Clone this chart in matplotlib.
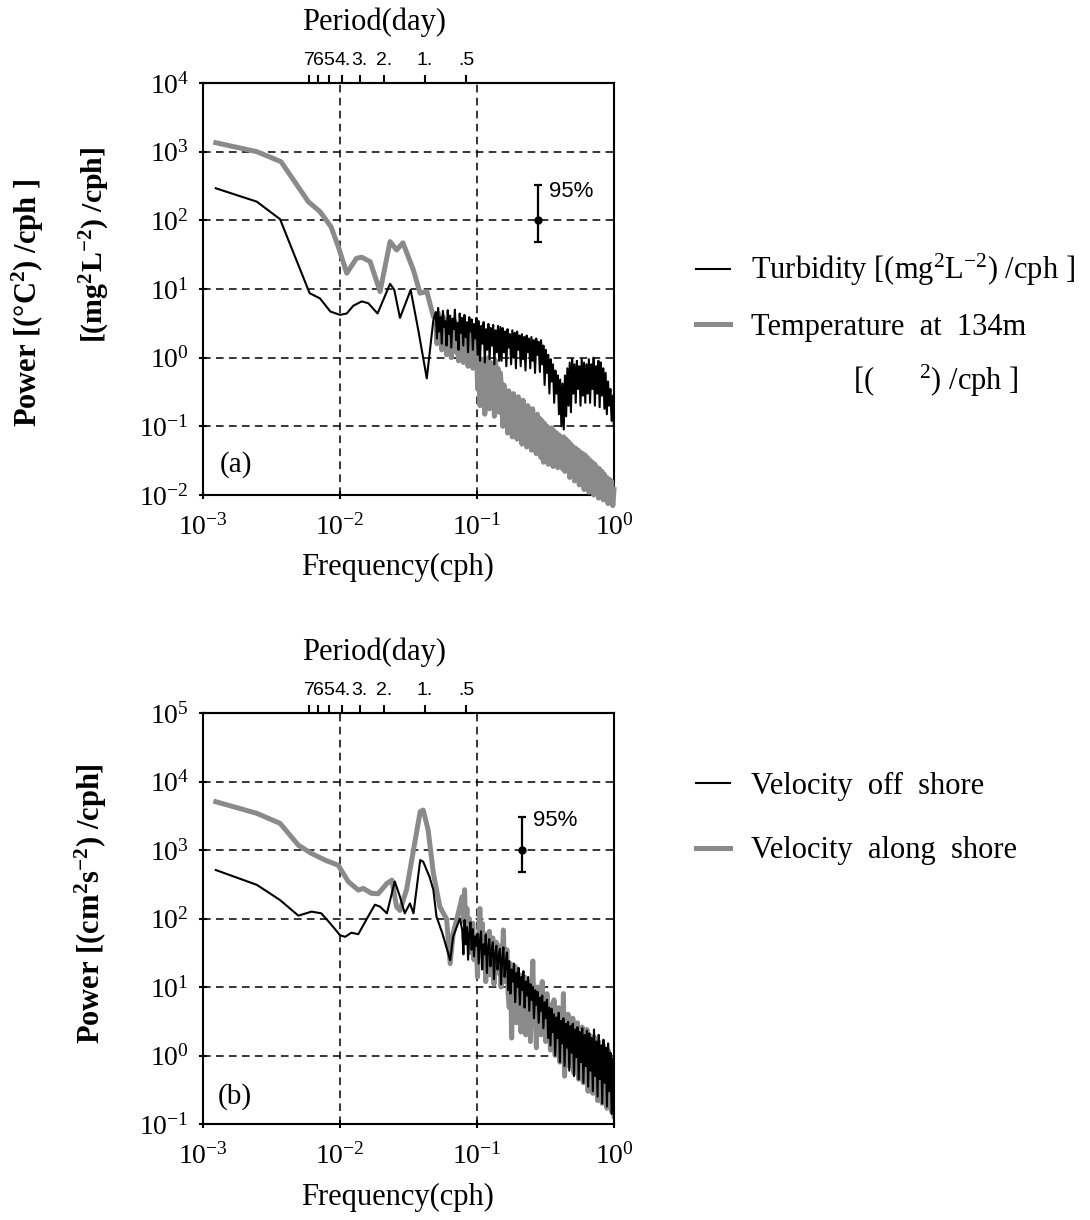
import numpy as np
import matplotlib
matplotlib.use("Agg")
import matplotlib.pyplot as plt
from matplotlib.ticker import FixedLocator, NullLocator, FuncFormatter

plt.rcParams['font.family'] = ['Liberation Serif', 'DejaVu Serif']
plt.rcParams['mathtext.fontset'] = 'custom'
plt.rcParams['mathtext.rm'] = 'Liberation Serif'
plt.rcParams['mathtext.it'] = 'Liberation Serif:italic'
plt.rcParams['mathtext.bf'] = 'Liberation Serif:bold'
plt.rcParams['mathtext.default'] = 'regular'

NARROW = ['Liberation Sans Narrow', 'Liberation Sans', 'DejaVu Sans']

# ---------------- (a) turbidity and temperature spectra ----------------
turb_freq_low = [0.00124, 0.00247, 0.00365, 0.0060, 0.00714, 0.0085, 0.0100, 0.0112,
                 0.0125, 0.0144, 0.0161, 0.0188, 0.0232, 0.0249, 0.0274, 0.0328,
                 0.0373, 0.0430, 0.0480]
turb_pow_low = [293, 187, 104, 8.7, 7.3, 4.7, 4.2, 4.4, 5.7, 6.6, 6.2, 4.4, 11.9, 9.7,
                3.8, 9.7, 2.5, 0.50, 3.5]

temp_freq_low = [0.00124, 0.00247, 0.00371, 0.00587, 0.00714, 0.00859, 0.00973, 0.0112,
                 0.0132, 0.0144, 0.0166, 0.0196, 0.0232, 0.0259, 0.0288, 0.0343,
                 0.0384, 0.0430, 0.0480]
temp_pow_low = [1350, 1000, 715, 187, 134, 81, 41, 17, 28, 29, 25, 9.2, 49, 37, 47, 19,
                8.7, 9.2, 4.0]

# high-frequency parts (0.05-1 cph), on a log-spaced frequency grid
turb_pow_high = (
    [4.6, 1.9, 5.3, 2.4, 3.9, 1.6, 4.8, 2.8, 3.4, 1.5, 4.9, 2.2, 4.1, 1.4, 3.7, 2.6,
     5.0, 1.8, 3.2, 1.3, 4.4, 2.3, 3.8, 1.5, 4.2, 2.0, 3.3, 1.2, 3.9, 2.4, 3.6, 1.3,
     3.1, 1.9, 3.8]
    + [1.1, 3.4, 0.9, 2.9, 1.6, 3.3, 0.85, 2.6, 1.3, 3.1, 0.95, 2.7, 1.5, 3.0, 0.8, 2.5,
       1.2, 2.9, 0.9, 2.8]
    + [0.9, 2.7, 1.2, 2.4, 0.75, 2.6, 1.4, 2.2, 0.8, 2.5, 1.0, 2.3, 0.7, 2.4, 1.3, 2.1,
       0.75, 2.2, 0.95, 2.0, 0.65, 2.1, 1.2, 1.9, 0.7, 2.0, 0.9, 1.8, 0.6, 1.9, 1.1, 1.7,
       0.62, 1.8, 0.8]
    + [1.5, 0.4, 1.3, 0.6, 1.1, 0.3, 0.95, 0.45, 0.8, 0.22, 0.65, 0.3, 0.55, 0.15, 0.48,
       0.1, 0.42]
    + [0.09, 0.55, 0.14, 0.7, 0.2, 0.85, 0.16, 0.95, 0.3, 0.8, 0.22, 0.9, 0.35, 0.75, 0.2,
       0.95, 0.28, 0.85, 0.22, 0.8, 0.3]
    + [0.95, 0.22, 0.8, 0.35, 1.0, 0.2, 0.75, 0.3, 0.9, 0.19, 0.85, 0.28, 0.7]
    + [0.18, 0.6, 0.15, 0.45, 0.2, 0.35, 0.12, 0.28, 0.09]
)
temp_pow_high = (
    [3.8, 1.6, 4.5, 2.2, 3.2, 1.3, 4.0, 2.5, 2.8, 1.1, 3.6, 1.8, 3.0, 1.0, 2.6, 2.0,
     3.4, 1.2, 2.4, 0.9, 3.1, 1.7, 2.5, 0.85, 2.9, 1.4, 2.2, 0.75, 2.7, 1.5, 2.0, 0.7,
     2.3, 1.1, 1.8]
    + [0.35, 1.0, 0.2, 0.9, 0.5, 0.95, 0.15, 0.8, 0.4, 1.0, 0.18, 0.85, 0.3, 0.75, 0.14,
       0.9, 0.35, 0.7, 0.16, 0.6]
    + [0.35, 0.1, 0.4, 0.16, 0.3, 0.08, 0.33, 0.14, 0.26, 0.07, 0.3, 0.12, 0.22, 0.065,
       0.27, 0.1, 0.2, 0.055, 0.24, 0.09, 0.18, 0.05, 0.2, 0.08, 0.16, 0.045, 0.18, 0.07,
       0.14, 0.04, 0.15, 0.06, 0.13, 0.035, 0.12]
    + [0.03, 0.11, 0.05, 0.1, 0.028, 0.09, 0.045, 0.095, 0.026, 0.085, 0.04, 0.08, 0.025,
       0.075, 0.038, 0.07, 0.024]
    + [0.07, 0.022, 0.065, 0.035, 0.06, 0.018, 0.055, 0.03, 0.05, 0.016, 0.048, 0.026,
       0.045, 0.014, 0.042, 0.022, 0.04, 0.012, 0.038, 0.02, 0.035]
    + [0.011, 0.032, 0.016, 0.03, 0.01, 0.028, 0.014, 0.025, 0.009, 0.024, 0.013, 0.022,
       0.0085]
    + [0.02, 0.011, 0.018, 0.0075, 0.017, 0.01, 0.016, 0.007, 0.012]
)

# ---------------- (b) velocity spectra ----------------
off_freq_low = [0.00124, 0.00247, 0.00365, 0.00497, 0.0062, 0.0073, 0.0087, 0.0100,
                0.0109, 0.0121, 0.0136, 0.0160, 0.0180, 0.0196, 0.0220, 0.0251,
                0.0274, 0.0297, 0.0324, 0.0344, 0.0385, 0.0405, 0.0450, 0.0480,
                0.0506, 0.0560, 0.0637, 0.0669, 0.0750]
off_pow_low = [510, 310, 186, 110, 126, 119, 80, 57, 54, 62, 59, 106, 159, 149, 119,
               347, 208, 119, 166, 119, 714, 674, 407, 263, 107, 60, 24.6, 54, 100]

along_freq_low = [0.00124, 0.00247, 0.00365, 0.00497, 0.0062, 0.0078, 0.0097, 0.0115,
                  0.0136, 0.0148, 0.0170, 0.0190, 0.0220, 0.0239, 0.0259, 0.0274,
                  0.0306, 0.0344, 0.0385, 0.0405, 0.0440, 0.0480, 0.0536, 0.0600,
                  0.0637, 0.0669, 0.0730]
along_pow_low = [5070, 3430, 2450, 1175, 890, 710, 600, 345, 260, 275, 233, 230, 325,
                 363, 148, 131, 263, 1000, 3630, 3830, 1950, 460, 148, 98, 22, 60, 120]

# high-frequency parts (0.078-1 cph), on a log-spaced frequency grid
off_pow_high = (
    [68, 30, 95, 42, 75, 25, 60, 88, 35, 70, 28, 55, 40]
    + [60, 22, 48, 65, 18, 42, 30, 58, 16, 38, 50, 20, 34, 45, 13, 30, 40, 18, 28, 36,
       11, 26, 38, 14, 22, 32, 9]
    + [24, 8, 18, 12, 22, 6, 16, 10, 19, 5.5, 14, 9, 17, 5, 12, 7.5, 14, 4.5, 11, 6.5,
       10, 3.5, 9, 5.5, 8.5, 3, 7, 4.5, 7.5, 2.5, 6, 3.5, 6.5, 1.8, 5]
    + [1.4, 4.8, 2.2, 4.0, 1.0, 3.6, 1.8, 4.2, 0.8, 3.2, 1.5, 3.5, 0.7, 2.9, 1.3, 3.1,
       0.6, 2.7, 1.1, 2.9, 0.5, 2.4, 0.95, 2.6, 0.45, 2.2, 0.8, 2.5, 0.4, 2.0, 0.7, 2.3]
    + [0.35, 2.1, 0.6, 1.8, 0.3, 2.4, 0.5, 1.6, 0.25, 2.0, 0.45, 1.4, 0.2, 1.7, 0.4, 1.3,
       0.18, 1.5, 0.3, 1.1, 0.14, 0.9, 0.12]
)
along_pow_high = (
    [208, 90, 263, 68, 140, 45, 100, 32, 60, 85, 25, 55, 40]
    + [14, 55, 140, 30, 85, 20, 60, 12, 48, 28, 65, 15, 38, 52, 11, 32, 45, 16, 28, 40,
       10, 26, 68, 12, 24, 35, 8]
    + [5, 22, 1.8, 16, 8, 20, 3, 13, 6, 15, 2.2, 12, 5, 14, 2, 10, 4, 12, 1.6, 9, 24, 3,
       8, 1.3, 10, 4, 7, 2, 12, 3, 6.5, 1.6, 8, 2.5, 5.5]
    + [1.2, 5.5, 2.0, 6.5, 1.0, 4.2, 1.6, 5.0, 0.8, 3.8, 1.4, 8.0, 0.5, 3.2, 1.2, 4.0,
       0.7, 2.9, 1.1, 3.5, 0.55, 2.6, 0.9, 3.0, 0.45, 2.3, 0.8, 2.6, 0.4, 2.2, 0.65, 2.4]
    + [0.3, 2.0, 0.5, 1.7, 0.28, 1.9, 0.45, 1.5, 0.22, 1.6, 0.4, 1.3, 0.2, 1.4, 0.35,
       1.1, 0.17, 1.2, 0.28, 0.9, 0.15, 0.8, 0.13]
)

# 95% confidence bars: (frequency, level, lower, upper)
ci_a = (0.277, 100, 48, 326)
ci_b = (0.212, 1000, 470, 3000)

# period axis (days) along the top
period_days = [7, 6, 5, 4, 3, 2, 1, 0.5]
period_labels = ['7', '6', '5', '4.', '3.', '2.', '1.', '.5']

BLACK = '#000000'
GRAY = '#8a8a8a'

W, H = 1090, 1220
fig = plt.figure(figsize=(W / 100, H / 100), dpi=100)


def fx(px):
    return px / W


def fy(py):
    return 1 - py / H


ax_a = fig.add_axes([fx(203), fy(495), (614 - 203) / W, (495 - 83) / H])
ax_b = fig.add_axes([fx(203), fy(1124), (614 - 203) / W, (1124 - 713) / H])


def style_axes(ax, ymin_exp, ymax_exp):
    ax.set_xscale('log')
    ax.set_yscale('log')
    ax.set_xlim(1e-3, 1)
    ax.set_ylim(10.0 ** ymin_exp, 10.0 ** ymax_exp)
    ax.xaxis.set_major_locator(FixedLocator([1e-3, 1e-2, 1e-1, 1.0]))
    ax.yaxis.set_major_locator(FixedLocator([10.0 ** e for e in range(ymin_exp, ymax_exp + 1)]))
    ax.xaxis.set_minor_locator(NullLocator())
    ax.yaxis.set_minor_locator(NullLocator())
    fmt = FuncFormatter(lambda v, _: r'$10^{%d}$' % int(round(np.log10(v))))
    ax.xaxis.set_major_formatter(fmt)
    ax.yaxis.set_major_formatter(fmt)
    ax.tick_params(which='major', direction='inout', length=6, width=1.5,
                   labelsize=20, pad=7)
    ax.tick_params(axis='x', pad=11)
    for s in ax.spines.values():
        s.set_linewidth(1.5)
    ax.grid(True, which='major', color='black', linestyle=(0, (5, 3.5)), linewidth=1.1)
    ax.set_axisbelow(True)

    sec = ax.secondary_xaxis('top')
    sec.set_xticks([1.0 / (24.0 * d) for d in period_days], labels=period_labels)
    sec.xaxis.set_minor_locator(NullLocator())
    sec.tick_params(direction='out', length=6, width=1.5, labelsize=14, pad=4)
    for lab in sec.get_xticklabels():
        lab.set_fontfamily(NARROW)
    sec.spines['top'].set_linewidth(1.5)


style_axes(ax_a, -2, 4)
style_axes(ax_b, -1, 5)

freq_high_a_turb = np.geomspace(0.05, 1.0, len(turb_pow_high))
freq_high_a_temp = np.geomspace(0.05, 1.0, len(temp_pow_high))
freq_high_b_off = np.geomspace(0.078, 1.0, len(off_pow_high))
freq_high_b_along = np.geomspace(0.078, 1.0, len(along_pow_high))

# ---- panel (a) curves ----
l_temp, = ax_a.plot(np.concatenate([temp_freq_low, freq_high_a_temp]),
                    np.concatenate([temp_pow_low, temp_pow_high]),
                    color=GRAY, lw=3.6, zorder=3, clip_on=False)
l_turb, = ax_a.plot(np.concatenate([turb_freq_low, freq_high_a_turb]),
                    np.concatenate([turb_pow_low, turb_pow_high]),
                    color=BLACK, lw=1.5, zorder=4)

# ---- panel (b) curves ----
l_along, = ax_b.plot(np.concatenate([along_freq_low, freq_high_b_along]),
                     np.concatenate([along_pow_low, along_pow_high]),
                     color=GRAY, lw=3.6, zorder=3)
l_off, = ax_b.plot(np.concatenate([off_freq_low, freq_high_b_off]),
                   np.concatenate([off_pow_low, off_pow_high]),
                   color=BLACK, lw=1.5, zorder=4)

# ---- confidence bars ----
for ax, ci in ((ax_a, ci_a), (ax_b, ci_b)):
    f, lev, lo, hi = ci
    ax.errorbar([f], [lev], yerr=[[lev - lo], [hi - lev]], fmt='o', color='black',
                ms=5, elinewidth=1.6, capsize=3, capthick=1.6, zorder=5)
    ax.annotate('95%', xy=(f, lev), xytext=(8, 21), textcoords='offset points',
                ha='left', va='center', fontsize=16, family=NARROW)

# ---- panel tags ----
ax_a.text(0.041, 0.075, '(a)', transform=ax_a.transAxes, fontsize=21,
          ha='left', va='center')
ax_b.text(0.037, 0.068, '(b)', transform=ax_b.transAxes, fontsize=21,
          ha='left', va='center')

# ---- axis titles ----
for ytop in (0, 630):
    fig.text(fx(374), fy(22 + ytop), 'Period(day)', fontsize=22, ha='center', va='center')
    fig.text(fx(398), fy(567 + ytop), 'Frequency(cph)', fontsize=22, ha='center', va='center')

fig.text(fx(28), fy(303), r'Power [(°C$^{\mathbf{2}}$) /cph ]', rotation=90,
         fontsize=22, fontweight='bold', ha='center', va='center')
fig.text(fx(95), fy(245), r'[(mg$^{\mathbf{2}}$L$^{\mathbf{-2}}$) /cph]', rotation=90,
         fontsize=21.5, fontweight='bold', ha='center', va='center')
fig.text(fx(91), fy(904), r'Power [(cm$^{\mathbf{2}}$s$^{\mathbf{-2}}$) /cph]', rotation=90,
         fontsize=22, fontweight='bold', ha='center', va='center')

# ---- legends ----
ax_a.legend(handles=[l_turb, l_temp],
            labels=[r'Turbidity [(mg$^{2}$L$^{-2}$) /cph ]', 'Temperature  at  134m'],
            loc='upper left', bbox_to_anchor=(fx(696), fy(252)),
            bbox_transform=fig.transFigure, frameon=False, fontsize=22,
            handlelength=1.1, handletextpad=0.7, labelspacing=0.8,
            borderpad=0, borderaxespad=0)
fig.text(fx(853), fy(381), r'[(      $^{2}$) /cph ]', fontsize=22, ha='left', va='center')

ax_b.legend(handles=[l_off, l_along],
            labels=['Velocity  off  shore', 'Velocity  along  shore'],
            loc='upper left', bbox_to_anchor=(fx(696), fy(772)),
            bbox_transform=fig.transFigure, frameon=False, fontsize=22,
            handlelength=1.1, handletextpad=0.7, labelspacing=1.16,
            borderpad=0, borderaxespad=0)

fig.savefig('out.png', dpi=100)
